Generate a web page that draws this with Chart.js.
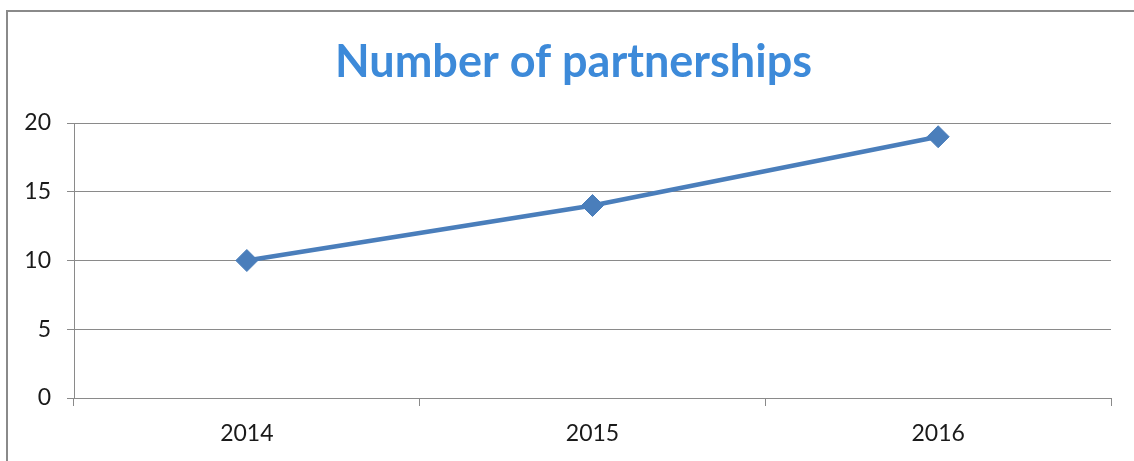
<!DOCTYPE html>
<html>
<head>
<meta charset="utf-8">
<script src="https://cdn.jsdelivr.net/npm/chart.js@4"></script>
<style>
  html, body { margin: 0; padding: 0; background: #fff; }
  #wrap { width: 1134px; height: 461px; position: relative; }
</style>
</head>
<body>
<div id="wrap"><canvas id="c" width="1134" height="461"></canvas></div>
<script>
const chartTitle = "Number of partnerships";
const categories = ["2014", "2015", "2016"];
const partnerships = [10, 14, 19];
const yTicks = [0, 5, 10, 15, 20];

const frame = {
  id: 'frame',
  beforeDraw(chart) {
    const ctx = chart.ctx;
    ctx.save();
    ctx.strokeStyle = '#8a8a8a';
    ctx.lineWidth = 2;
    ctx.strokeRect(7, 11, 1140, 470);
    ctx.restore();
  }
};

new Chart(document.getElementById('c'), {
  type: 'line',
  data: {
    labels: categories,
    datasets: [{
      data: partnerships,
      borderColor: '#4a7ebb',
      backgroundColor: '#4a7ebb',
      borderWidth: 4.5,
      pointStyle: 'rectRot',
      pointRadius: 11,
      pointBorderWidth: 1,
      pointBorderColor: '#4a7ebb',
      tension: 0,
      fill: false
    }]
  },
  options: {
    responsive: false,
    animation: false,
    devicePixelRatio: 1,
    layout: { padding: { left: 36, right: 23, top: 0, bottom: 0 } },
    plugins: {
      legend: { display: false },
      tooltip: { enabled: false },
      title: {
        display: true,
        text: chartTitle,
        color: '#3d8ad9',
        font: { family: 'Lato', size: 45, weight: 'bold', lineHeight: 1.2 },
        padding: { top: 35, bottom: 34 }
      }
    },
    scales: {
      x: {
        offset: true,
        grid: {
          offset: true,
          drawOnChartArea: false,
          drawTicks: true,
          tickLength: 8,
          color: '#8a8a8a',
          lineWidth: 1
        },
        border: { color: '#8a8a8a', width: 1 },
        ticks: {
          color: '#1a1a1a',
          font: { family: 'Lato', size: 23 },
          padding: 14,
          maxRotation: 0
        },
        afterFit(scale) { scale.height = 461 - 398; }
      },
      y: {
        min: 0,
        max: 20,
        afterBuildTicks(scale) { scale.ticks = yTicks.map(v => ({ value: v })); },
        grid: {
          color: '#8a8a8a',
          lineWidth: 1,
          drawTicks: true,
          tickLength: 7
        },
        border: { color: '#8a8a8a', width: 1 },
        ticks: {
          color: '#1a1a1a',
          font: { family: 'Lato', size: 23 },
          padding: 16
        },
        afterFit(scale) {
          scale.width = 38;
          scale._computeLabelArea = () => undefined;
        }
      }
    }
  },
  plugins: [frame]
});
</script>
</body>
</html>
